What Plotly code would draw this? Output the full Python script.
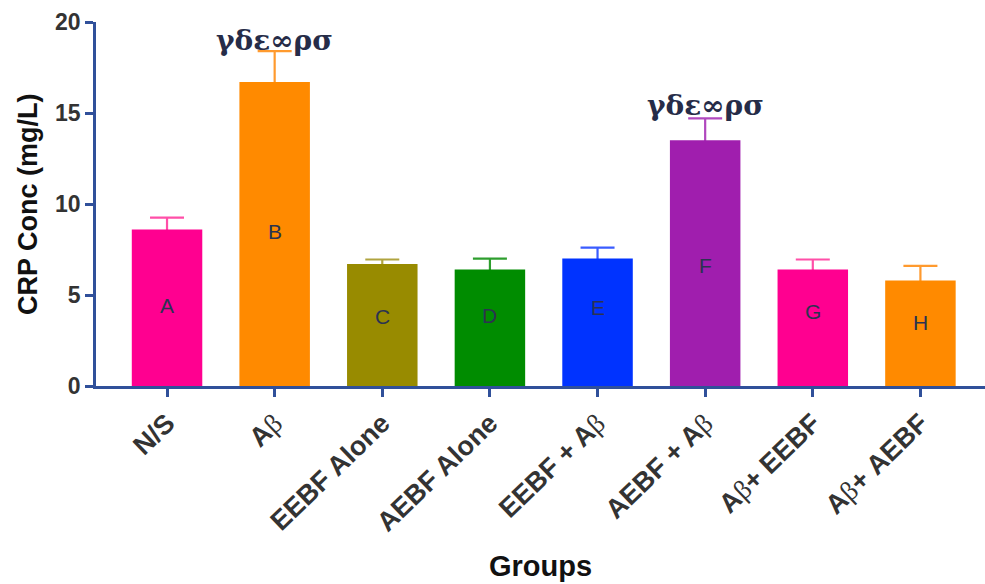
import plotly.graph_objects as go

# CRP concentration per treatment group (mean with upper SEM)
groups = ["N/S", "Aβ", "EEBF Alone", "AEBF Alone", "EEBF + Aβ", "AEBF + Aβ", "Aβ+ EEBF", "Aβ+ AEBF"]
means = [8.6, 16.7, 6.7, 6.4, 7.0, 13.5, 6.4, 5.8]
sem = [0.65, 1.7, 0.25, 0.6, 0.6, 1.2, 0.55, 0.8]
bar_letters = ["A", "B", "C", "D", "E", "F", "G", "H"]
letter_y = [4.4, 8.5, 3.8, 3.9, 4.3, 6.6, 4.1, 3.5]
sig_text = "γδε∞ρσ"
sig_groups = [1, 5]
sig_y = [19.0, 15.4]

bar_colors = ["#FF0090", "#FF8A00", "#988B00", "#008C00", "#0033FF", "#A01EAE", "#FF0090", "#FF8A00"]
err_colors = ["#FF4FA8", "#FF9A2E", "#B0A440", "#2E9E2E", "#3A5CFF", "#B048BE", "#FF4FA8", "#FF9A2E"]
axis_color = "#30509A"
bar_width = 0.655
hidden_base = 0.4  # whisker starts inside the bar so only the upper arm shows

def fmt_tick(label):
    # beta drawn in a thin serif face inside the bold group names
    return label.replace("β", "<span style='font-family:Liberation Serif;font-weight:normal'>β</span>")

fig = go.Figure()

# upper-only whiskers, placed underneath the bars
for i in range(len(groups)):
    fig.add_trace(go.Bar(
        x=[i], y=[means[i] - hidden_base], width=bar_width,
        marker=dict(color="rgba(0,0,0,0)", line=dict(width=0)),
        error_y=dict(type="data", symmetric=False, array=[sem[i] + hidden_base], arrayminus=[0],
                     color=err_colors[i], thickness=2.2, width=17),
        showlegend=False, hoverinfo="skip",
    ))

fig.add_trace(go.Bar(
    x=list(range(len(groups))), y=means, width=bar_width,
    marker=dict(color=bar_colors, line=dict(width=0)),
    showlegend=False, hoverinfo="skip",
))

for i, (lab, ly) in enumerate(zip(bar_letters, letter_y)):
    fig.add_annotation(x=i, y=ly, text=lab, showarrow=False,
                       font=dict(family="Liberation Sans", size=21, color="#2B3350"))

for gi, sy in zip(sig_groups, sig_y):
    fig.add_annotation(x=gi, y=sy, text=sig_text, showarrow=False,
                       font=dict(family="DejaVu Serif", size=28, color="#262C48", weight="bold"))

fig.add_annotation(xref="paper", yref="paper", x=-0.0765, y=0.5, text="<b>CRP Conc (mg/L)</b>",
                   textangle=-90, showarrow=False, xanchor="center", yanchor="middle",
                   font=dict(family="Liberation Sans", size=27, color="#111111"))
fig.add_annotation(xref="paper", yref="paper", x=0.5, y=-0.495, text="<b>Groups</b>",
                   showarrow=False, xanchor="center", yanchor="middle",
                   font=dict(family="Liberation Sans", size=29, color="#111111"))

fig.update_layout(
    width=985, height=584,
    margin=dict(l=96, r=0, t=22, b=198),
    paper_bgcolor="white", plot_bgcolor="white",
    barmode="overlay",
    xaxis=dict(
        range=[-0.66, 7.6],
        tickmode="array", tickvals=list(range(len(groups))),
        ticktext=[fmt_tick(g) for g in groups],
        tickangle=-44,
        tickfont=dict(family="Liberation Sans", size=27, color="#333333", weight="bold"),
        ticks="outside", ticklen=8, tickwidth=2.5, tickcolor=axis_color,
        showline=True, linecolor=axis_color, linewidth=2.5,
        showgrid=False, zeroline=False,
    ),
    yaxis=dict(
        range=[0, 20], tickvals=[0, 5, 10, 15, 20],
        tickfont=dict(family="Liberation Sans", size=23, color="#333333", weight="bold"),
        ticks="outside", ticklen=8, tickwidth=2.5, tickcolor=axis_color,
        showline=True, linecolor=axis_color, linewidth=2.5,
        showgrid=False, zeroline=False,
    ),
)

fig.write_html("out.html")
